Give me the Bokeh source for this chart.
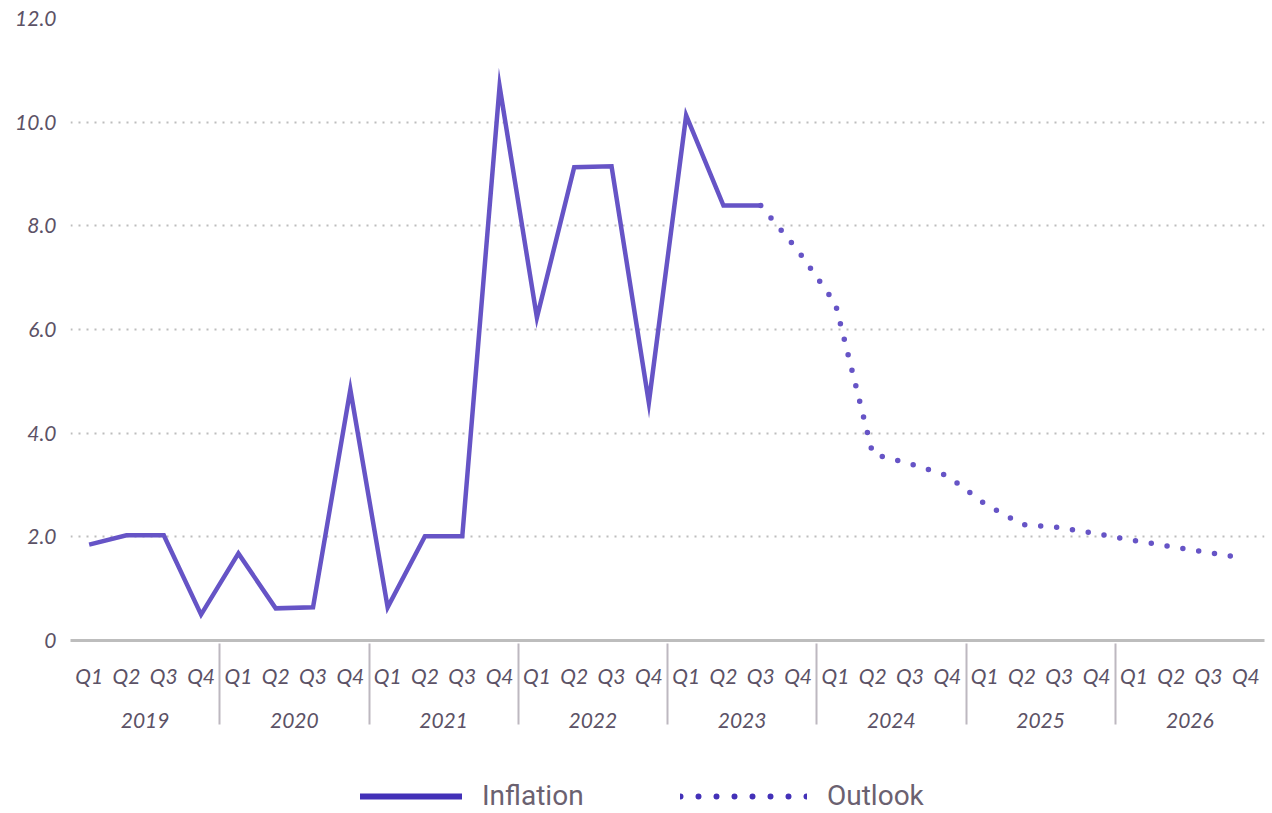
from bokeh.plotting import figure
from bokeh.layouts import column
from bokeh.models import FactorRange, FixedTicker, Legend, LegendItem, ColumnDataSource
from bokeh.embed import file_html
from bokeh.resources import INLINE

years = ["2019", "2020", "2021", "2022", "2023", "2024", "2025", "2026"]
quarters = ["Q1", "Q2", "Q3", "Q4"]
factors = [(y, q) for y in years for q in quarters]

inflation = [1.85, 2.03, 2.03, 0.50, 1.68, 0.62, 0.64, 4.84, 0.64, 2.01, 2.01, 10.69,
             6.23, 9.13, 9.15, 4.59, 10.13, 8.39, 8.39]
outlook = [8.39, 7.52, 6.50, 3.60, 3.41, 3.18, 2.64, 2.24, 2.18, 2.06, 1.93, 1.81, 1.70, 1.58]
y_ticks = [0, 2, 4, 6, 8, 10, 12]
y_tick_labels = ["0", "2.0", "4.0", "6.0", "8.0", "10.0", "12.0"]
series_names = ["Inflation", "Outlook"]

infl_x = factors[:len(inflation)]
out_x = factors[len(inflation) - 1:len(inflation) - 1 + len(outlook)]

LINE = "#6654c6"
LEG = "#4331b8"
TXT = "#5c5266"
TICK_FONT = "Lato"

p = figure(frame_width=1194, frame_height=622,
           x_range=FactorRange(*factors, factor_padding=0, group_padding=0,
                               subgroup_padding=0, range_padding=0),
           y_range=(0, 12), output_backend="svg", toolbar_location=None,
           min_border_left=70, min_border_right=2, min_border_top=18, min_border_bottom=100)
p.outline_line_color = None

src_i = ColumnDataSource(dict(x=infl_x, y=inflation))
src_o = ColumnDataSource(dict(x=out_x, y=outlook))
p.line("x", "y", source=src_i, line_color=LINE, line_width=4.5, line_join="miter")
p.line("x", "y", source=src_o, line_color=LINE, line_width=5.5, line_dash="0 16", line_cap="round")

# y axis
p.yaxis.ticker = FixedTicker(ticks=y_ticks)
p.yaxis.major_label_overrides = {t: l for t, l in zip(y_ticks, y_tick_labels)}
p.yaxis.axis_line_color = None
p.yaxis.major_tick_line_color = None
p.yaxis.minor_tick_line_color = None
p.yaxis.major_tick_out = 0
p.yaxis.major_label_standoff = 14
p.yaxis.major_label_text_font = TICK_FONT
p.yaxis.major_label_text_font_style = "italic"
p.yaxis.major_label_text_font_size = "21px"
p.yaxis.major_label_text_color = TXT

# x axis
p.xaxis.axis_line_color = "#bdbdbd"
p.xaxis.axis_line_width = 3
p.xaxis.major_tick_line_color = None
p.xaxis.major_tick_out = 0
p.xaxis.major_label_standoff = 22
p.xaxis.major_label_text_font = TICK_FONT
p.xaxis.major_label_text_font_style = "italic"
p.xaxis.major_label_text_font_size = "21px"
p.xaxis.major_label_text_color = TXT
p.xaxis.group_text_font = TICK_FONT
p.xaxis.group_text_font_style = "italic"
p.xaxis.group_text_font_size = "21px"
p.xaxis.group_text_color = TXT
p.xaxis.separator_line_color = "#bdb8c0"
p.xaxis.separator_line_width = 2

p.xgrid.grid_line_color = None
p.ygrid.grid_line_color = "#bdbdbd"
p.ygrid.grid_line_width = 2
p.ygrid.grid_line_dash = "2 6"

# legend strip
lf = figure(width=1266, height=73, x_range=(0, 1), y_range=(0, 1), output_backend="svg",
            toolbar_location=None, min_border=0, outline_line_color=None)
lf.axis.visible = False
lf.grid.visible = False
proxy = ColumnDataSource(dict(x=[0.5], y=[float("nan")]))
r1 = lf.line("x", "y", source=proxy, line_color=LEG, line_width=6, line_cap="round")
r2 = lf.line("x", "y", source=proxy, line_color=LEG, line_width=6, line_dash="0 18", line_cap="round")

common = dict(orientation="horizontal", glyph_height=20, label_standoff=20,
              label_text_font="Roboto", label_text_font_size="28px", label_text_color="#6b6170",
              border_line_color=None, background_fill_alpha=0, margin=0, padding=0)
lf.add_layout(Legend(items=[LegendItem(label=series_names[0], renderers=[r1])],
                     location=(290, 1), glyph_width=102, **common), "center")
lf.add_layout(Legend(items=[LegendItem(label=series_names[1], renderers=[r2])],
                     location=(610, 1), glyph_width=127, **common), "center")

open("out.html", "w").write(file_html(column(p, lf, spacing=0), INLINE))
